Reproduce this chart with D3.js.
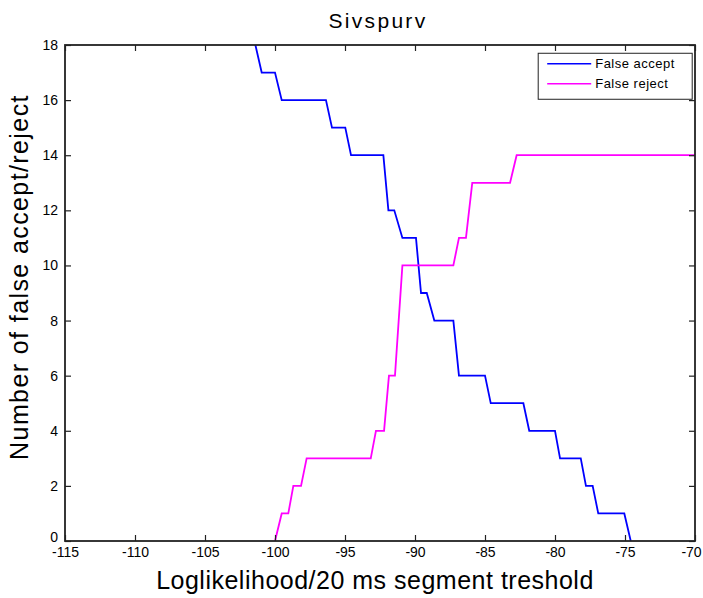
<!DOCTYPE html>
<html>
<head>
<meta charset="utf-8">
<script src="https://cdn.jsdelivr.net/npm/d3@7"></script>
<style>
  body { margin: 0; background: #fff; }
  svg text { font-family: "Liberation Sans", Arial, sans-serif; fill: #000; }
</style>
</head>
<body>
<svg id="chart" width="703" height="598"></svg>
<script>
const xTicks = [-115, -110, -105, -100, -95, -90, -85, -80, -75, -70];
const yTicks = [0, 2, 4, 6, 8, 10, 12, 14, 16, 18];

// false accept (blue)
const acceptX = [-101.8, -101.4, -100.95, -100.0, -99.52, -96.36, -95.93, -94.98, -94.57, -92.26, -91.9, -91.48,
  -90.9, -89.93, -89.57, -89.16, -88.62, -87.26, -86.86, -85.0, -84.59, -82.26, -81.84, -80.0,
  -79.64, -78.16, -77.79, -77.31, -76.91, -75.05, -74.59];
const acceptY = [19, 18, 17, 17, 16, 16, 15, 15, 14, 14, 12, 12,
  11, 11, 9, 9, 8, 8, 6, 6, 5, 5, 4, 4,
  3, 3, 2, 2, 1, 1, 0];

// false reject (magenta)
const rejectX = [-100.0, -99.52, -99.05, -98.69, -98.14, -97.74, -93.16, -92.79, -92.21, -91.86, -91.43,
  -90.9, -87.26, -86.86, -86.36, -85.91, -83.21, -82.74, -70];
const rejectY = [0, 1, 1, 2, 2, 3, 3, 4, 4, 6, 6,
  10, 10, 11, 11, 13, 13, 14, 14];

const series = [
  {name: "False accept", color: "#0000ff", xs: acceptX, ys: acceptY},
  {name: "False reject", color: "#ff00ff", xs: rejectX, ys: rejectY}
];

const margin = {left: 65, right: 8, top: 45, bottom: 57};
const svg = d3.select("#chart");
const width = 703 - margin.left - margin.right;
const height = 598 - margin.top - margin.bottom;

const x = d3.scaleLinear().domain([-115, -70]).range([0, width]);
const y = d3.scaleLinear().domain([0, 18]).range([height, 0]);

const g = svg.append("g").attr("transform", `translate(${margin.left},${margin.top})`);

g.append("clipPath").attr("id", "plot-clip")
  .append("rect").attr("width", width).attr("height", height);

const line = d3.line().x(d => x(d[0])).y(d => y(d[1]));

g.append("g").attr("clip-path", "url(#plot-clip)")
  .selectAll("path")
  .data(series).enter()
  .append("path")
    .attr("d", s => line(s.xs.map((v, i) => [v, s.ys[i]])))
    .attr("fill", "none")
    .attr("stroke", s => s.color)
    .attr("stroke-width", 1.8);

// axes, ticks pointing inward like the original
const styleAxis = sel => {
  sel.select(".domain").remove();
  sel.selectAll("line").attr("stroke", "#222").attr("stroke-width", 1.2);
  sel.selectAll("text").attr("font-size", 14);
};
const plain = d => String(d);

g.append("g").attr("transform", `translate(0,${height})`)
  .call(d3.axisBottom(x).tickValues(xTicks).tickFormat(plain).tickSizeInner(-6).tickSizeOuter(0).tickPadding(6))
  .call(styleAxis)
  .call(a => a.selectAll("text").filter(d => d === -70).attr("dx", -4));
g.append("g")
  .call(d3.axisTop(x).tickValues(xTicks).tickSizeInner(-6).tickSizeOuter(0).tickFormat(""))
  .call(styleAxis);
g.append("g")
  .call(d3.axisLeft(y).tickValues(yTicks).tickFormat(plain).tickSizeInner(-6).tickSizeOuter(0).tickPadding(7))
  .call(styleAxis)
  .call(a => a.selectAll("text").filter(d => d === 0).attr("y", -4));
g.append("g").attr("transform", `translate(${width},0)`)
  .call(d3.axisRight(y).tickValues(yTicks).tickSizeInner(-6).tickSizeOuter(0).tickFormat(""))
  .call(styleAxis);

g.append("rect")
  .attr("width", width).attr("height", height)
  .attr("fill", "none").attr("stroke", "#222").attr("stroke-width", 1.8);

// legend
const legend = g.append("g").attr("transform", `translate(${x(-81.2)},${y(17.7)})`);
legend.append("rect")
  .attr("width", 154).attr("height", 46)
  .attr("fill", "#fff").attr("stroke", "#222").attr("stroke-width", 1);
legend.selectAll("g.item")
  .data(series).enter()
  .append("g").attr("class", "item")
  .attr("transform", (d, i) => `translate(0,${10.5 + i * 20})`)
  .each(function(d) {
    const item = d3.select(this);
    item.append("line").attr("x1", 9).attr("x2", 53)
      .attr("stroke", d.color).attr("stroke-width", 1.3);
    item.append("text").attr("x", 57).attr("dy", "0.35em")
      .attr("font-size", 13).attr("letter-spacing", 0.5).text(d.name);
  });

// titles
svg.append("text")
  .attr("x", margin.left + width / 2 - 2).attr("y", 28)
  .attr("text-anchor", "middle").attr("font-size", 21).attr("letter-spacing", 2.3)
  .text("Sivspurv");
svg.append("text")
  .attr("x", margin.left + width / 2 - 5).attr("y", 589)
  .attr("text-anchor", "middle").attr("font-size", 25).attr("letter-spacing", 0.5)
  .text("Loglikelihood/20 ms segment treshold");
svg.append("text")
  .attr("transform", `translate(28,277) rotate(-90)`)
  .attr("text-anchor", "middle").attr("font-size", 25).attr("letter-spacing", 1.4)
  .text("Number of false accept/reject");
</script>
</body>
</html>
